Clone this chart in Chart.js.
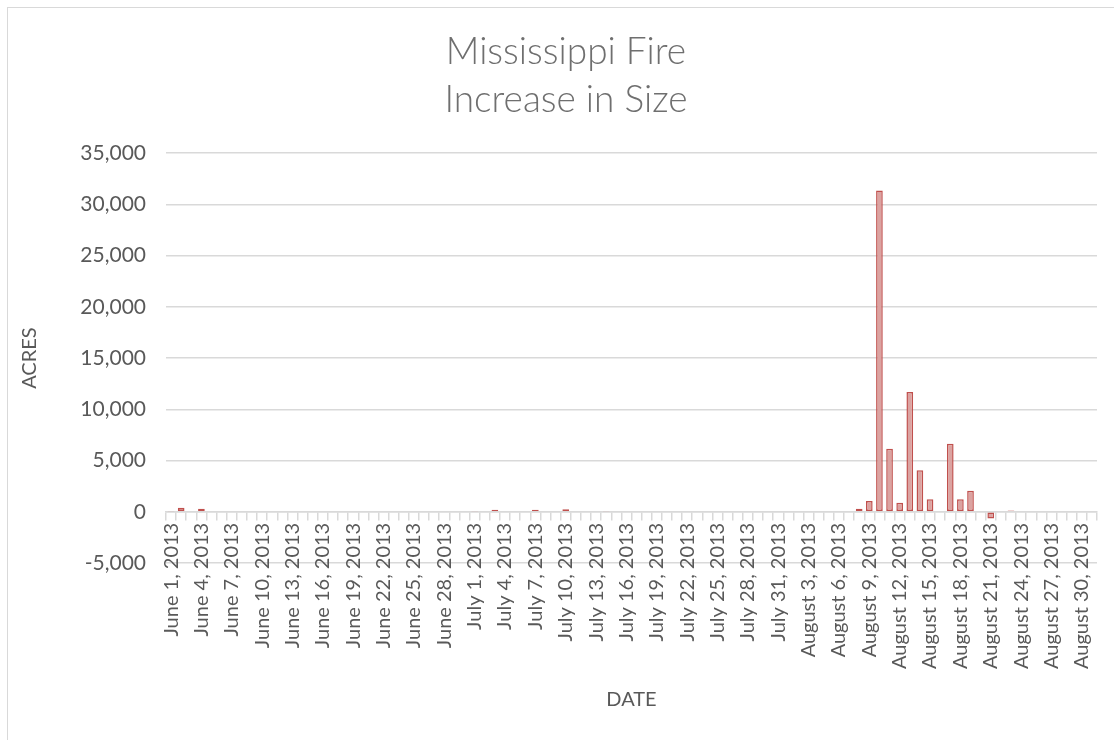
<!DOCTYPE html>
<html>
<head>
<meta charset="utf-8">
<script src="https://cdn.jsdelivr.net/npm/chart.js@4.4.1/dist/chart.umd.min.js"></script>
<style>
  html, body { margin: 0; padding: 0; background: #fff; overflow: hidden; }
  #frame {
    position: absolute; left: 7px; top: 7px;
    width: 1130px; height: 760px;
    border: 1px solid #d9d9d9;
  }
  #fireChart { position: absolute; left: 8px; top: 8px; }
</style>
</head>
<body>
<div id="frame"></div>
<canvas id="fireChart" width="1116" height="732"></canvas>
<script>
// categories
const months = ['June', 'July', 'August'];
const daysInMonth = [30, 31, 31];

// acres added per day
const juneAcres = [60, 400, 0, 300, 0, 0, 0, 0, 0, 0,
                   0, 0, 0, 0, 0, 0, 0, 0, 0, 0,
                   0, 0, 0, 0, 0, 0, 0, 0, 0, 0];
const julyAcres = [50, 0, 200, 0, 0, 0, 200, 0, 0, 250,
                   0, 0, 0, 60, 0, 0, 0, 0, 0, 0,
                   0, 0, 0, 0, 0, 0, 0, 0, 0, 0, 0];
const augustAcres = [0, 0, 0, 0, 0, 0, 0, 300, 1050, 31350,
                     6140, 880, 11690, 4060, 1230, 0, 6630, 1230, 2050, 0,
                     -650, 0, 130, 0, 0, 0, 0, 0, 0, 0, 0];

// y axis ticks
const yMin = -5000;
const yMax = 35000;
const yStep = 5000;

const dates = [];
months.forEach((m, i) => {
  for (let d = 1; d <= daysInMonth[i]; d++) dates.push(m + ' ' + d + ', 2013');
});
const acres = juneAcres.concat(julyAcres, augustAcres);

const grey = '#595959';
const gridGrey = '#d9d9d9';

new Chart(document.getElementById('fireChart'), {
  type: 'bar',
  data: {
    labels: dates,
    datasets: [{
      label: 'Acres',
      data: acres,
      xAxisID: 'x',
      yAxisID: 'y',
      backgroundColor: '#dba3a1',
      borderColor: '#c0504d',
      borderWidth: 1.5,
      borderSkipped: false,
      barPercentage: 0.66,
      categoryPercentage: 1
    }]
  },
  options: {
    responsive: false,
    animation: false,
    devicePixelRatio: 1,
    layout: { padding: 0 },
    plugins: {
      legend: { display: false },
      tooltip: { enabled: false },
      title: {
        display: true,
        text: ['Mississippi Fire', 'Increase in Size'],
        color: '#6f6f6f',
        font: { family: 'Lato', size: 37, weight: '300', lineHeight: 1.3 },
        padding: { top: 20, bottom: 29 }
      }
    },
    scales: {
      // bottom axis only carries the DATE title
      x: {
        type: 'category',
        position: 'bottom',
        grid: { display: false },
        border: { display: false },
        ticks: { display: false },
        title: {
          display: true,
          text: 'DATE',
          color: grey,
          font: { family: 'Lato', size: 20 },
          padding: { top: 0, bottom: 28 }
        },
        afterFit: (scale) => { scale.height = 177; }
      },
      // category axis crossing at zero, with tick marks and the date labels
      x0: {
        type: 'category',
        labels: dates,
        position: { y: 0 },
        offset: true,
        grid: { offset: true, drawOnChartArea: false, drawTicks: true, tickLength: 8, color: gridGrey, lineWidth: 1.5 },
        border: { color: gridGrey, width: 1.5 },
        ticks: {
          autoSkip: false,
          maxRotation: 90,
          minRotation: 90,
          padding: 3,
          color: grey,
          font: { family: 'Lato', size: 20 },
          callback: (v, i) => (i % 3 === 0 ? dates[i] : '')
        }
      },
      y: {
        min: yMin,
        max: yMax,
        ticks: {
          stepSize: yStep,
          padding: 20,
          color: grey,
          font: { family: 'Lato', size: 21 }
        },
        grid: { color: gridGrey, lineWidth: 1.5, drawTicks: false },
        border: { display: false },
        title: {
          display: true,
          text: 'ACRES',
          color: grey,
          font: { family: 'Lato', size: 20 },
          padding: { top: 10, bottom: 0 }
        },
        afterFit: (scale) => { scale.width = 158; }
      },
      // empty right gutter, keeps the title centred on the whole chart
      yGap: {
        position: 'right',
        display: true,
        ticks: { display: false },
        grid: { drawOnChartArea: false, drawTicks: false },
        border: { display: false },
        afterFit: (scale) => { scale.width = 27; }
      }
    }
  }
});
</script>
</body>
</html>
